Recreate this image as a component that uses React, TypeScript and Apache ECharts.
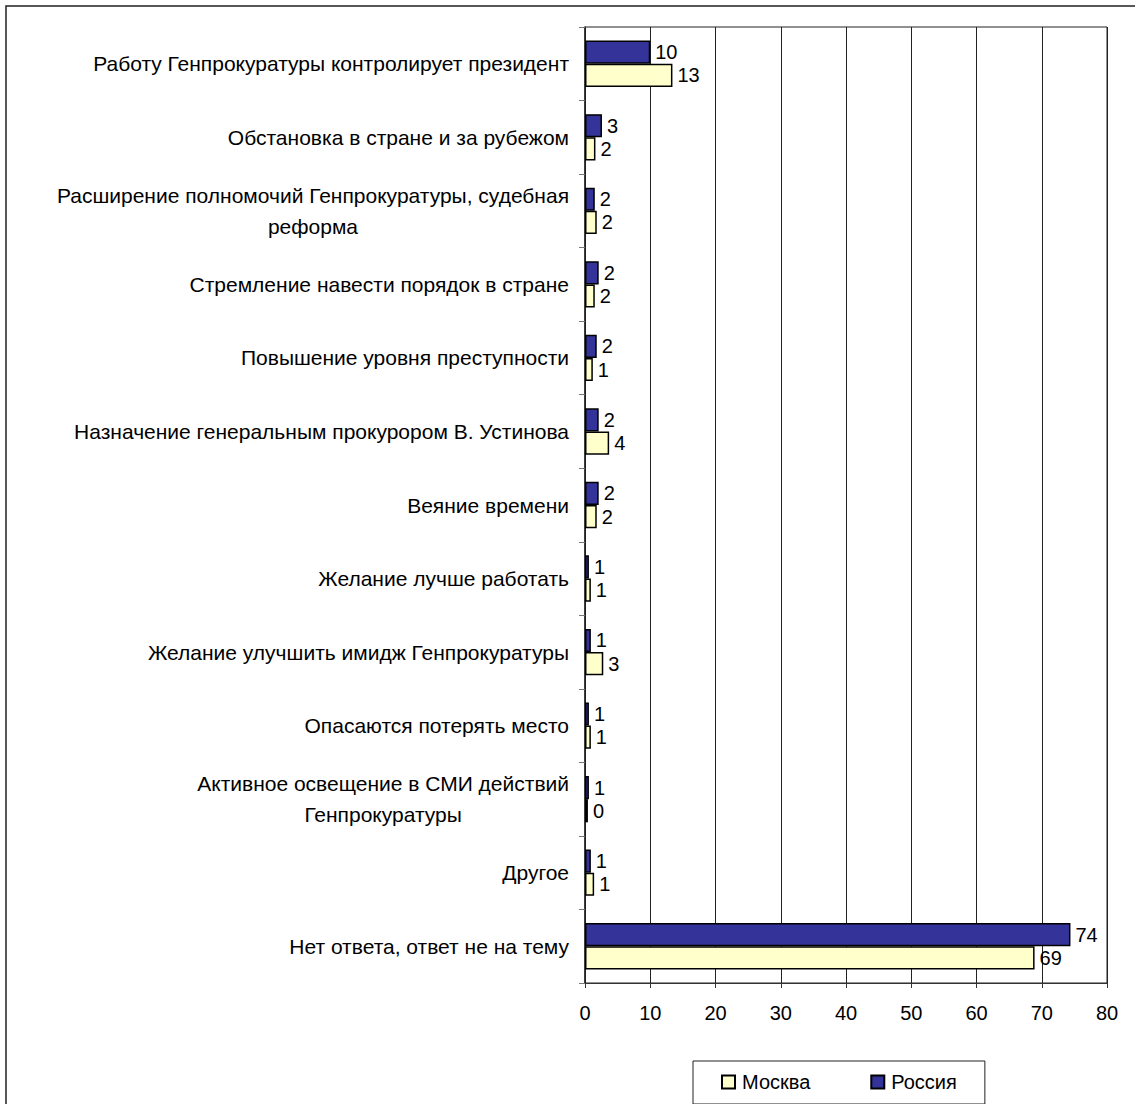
import React, { useEffect, useRef } from "react";
import * as echarts from "echarts";

const categories: string[] = [
  "Работу Генпрокуратуры контролирует президент",
  "Обстановка в стране и за рубежом",
  "Расширение полномочий Генпрокуратуры, судебная\nреформа",
  "Стремление навести порядок в стране",
  "Повышение уровня преступности",
  "Назначение генеральным прокурором В. Устинова",
  "Веяние времени",
  "Желание лучше работать",
  "Желание улучшить имидж Генпрокуратуры",
  "Опасаются потерять место",
  "Активное освещение в СМИ действий\nГенпрокуратуры",
  "Другое",
  "Нет ответа, ответ не на тему",
];

const russia: number[] = [10, 2.6, 1.5, 2.1, 1.8, 2.1, 2.1, 0.6, 0.9, 0.6, 0.6, 0.9, 74.4];
const moscow: number[] = [13.4, 1.6, 1.8, 1.5, 1.2, 3.7, 1.8, 0.9, 2.8, 0.9, 0.45, 1.4, 68.9];

const xMin = 0;
const xMax = 80;
const xStep = 10;

const FONT = "'Liberation Sans', Arial, sans-serif";

export default function App() {
  const ref = useRef<HTMLDivElement>(null);
  useEffect(() => {
    if (!ref.current) return;
    const chart = echarts.init(ref.current, null, { renderer: "svg" });
    const labelStyle = {
      show: true,
      position: "right" as const,
      distance: 5,
      color: "#000",
      fontSize: 20,
      fontFamily: FONT,
      formatter: (p: any) => String(Math.round(p.value)),
    };
    chart.setOption({
      animation: false,
      backgroundColor: "#fff",
      textStyle: { fontFamily: FONT },
      graphic: [
        {
          type: "rect",
          shape: { x: 6, y: 6, width: 1200, height: 1200 },
          style: { fill: "none", stroke: "#222", lineWidth: 1.5 },
          silent: true,
        },
      ],
      grid: {
        left: 585,
        top: 27,
        right: 28,
        bottom: 121,
        show: true,
        borderColor: "#222",
        borderWidth: 1,
        containLabel: false,
      },
      legend: {
        data: ["Москва", "Россия"],
        left: 693,
        top: 1061,
        orient: "horizontal",
        padding: [11, 28, 12, 28],
        itemGap: 60,
        itemWidth: 13,
        itemHeight: 13,
        borderColor: "#222",
        borderWidth: 1,
        selectedMode: false,
        icon: "rect",
        textStyle: { fontSize: 20, color: "#000", fontFamily: FONT, padding: [0, 0, 0, 2] },
      },
      xAxis: {
        type: "value",
        min: xMin,
        max: xMax,
        interval: xStep,
        axisLine: { show: true, lineStyle: { color: "#333", width: 1 } },
        axisTick: { show: true, inside: false, length: 5, lineStyle: { color: "#333" } },
        splitLine: { show: true, lineStyle: { color: "#222", width: 1 } },
        axisLabel: { color: "#000", fontSize: 20, fontFamily: FONT, margin: 20 },
      },
      yAxis: {
        type: "category",
        data: categories,
        inverse: true,
        axisLine: { show: true, lineStyle: { color: "#222", width: 1.5 } },
        axisTick: { show: true, inside: false, length: 6, lineStyle: { color: "#777" } },
        splitLine: { show: false },
        axisLabel: {
          margin: 16,
          color: "#000",
          fontSize: 21,
          fontFamily: FONT,
          lineHeight: 31,
          formatter: (v: string) =>
            v
              .split("\n")
              .map((l) => `{c|${l}}`)
              .join("\n"),
          rich: {
            c: { align: "center", fontSize: 21, fontFamily: FONT, color: "#000", lineHeight: 31 },
          },
        },
      },
      series: [
        {
          name: "Россия",
          type: "bar",
          data: russia,
          barGap: "0%",
          barCategoryGap: "37%",
          itemStyle: { color: "#333399", borderColor: "#000", borderWidth: 1.5 },
          label: labelStyle,
        },
        {
          name: "Москва",
          type: "bar",
          data: moscow,
          barGap: "0%",
          barCategoryGap: "37%",
          itemStyle: { color: "#FFFFCC", borderColor: "#000", borderWidth: 1.5 },
          label: labelStyle,
        },
      ],
    });
    return () => chart.dispose();
  }, []);
  return (
    <div
      ref={ref}
      style={{ position: "fixed", left: 0, top: 0, width: 1135, height: 1104, background: "#fff" }}
    />
  );
}
